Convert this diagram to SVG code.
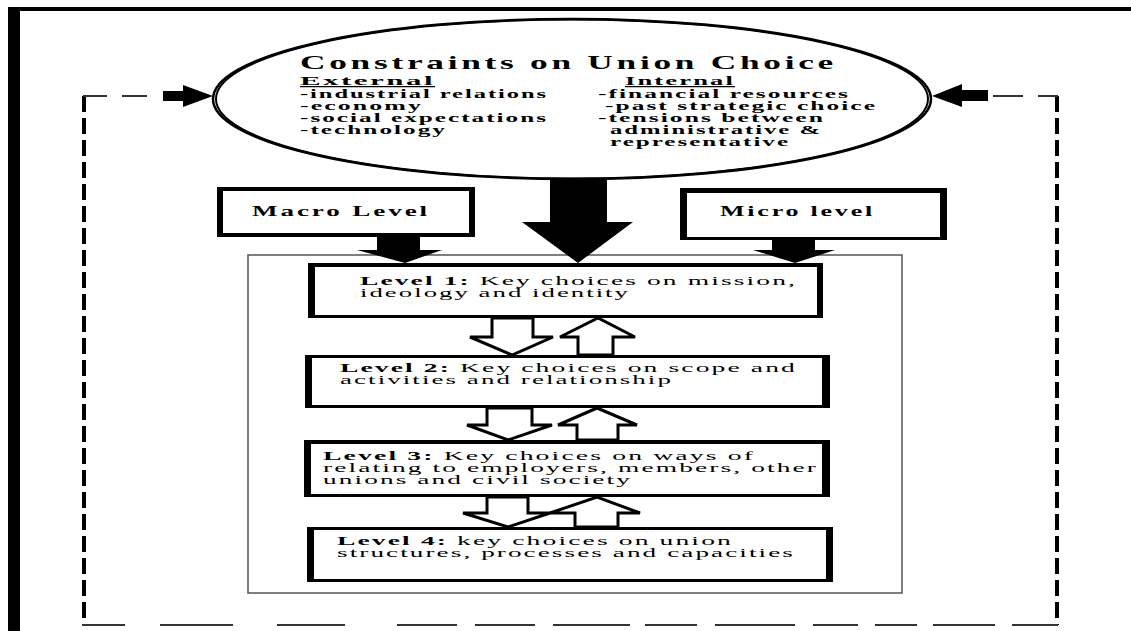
<svg xmlns="http://www.w3.org/2000/svg" width="1131" height="631" viewBox="0 0 1131 631">
<style>
  .t { font-family: "Liberation Serif", "Times New Roman", serif; fill: #000; }
  .eb { font-size: 12.5px; font-weight: bold; letter-spacing: 1px; }
  .ttl { font-size: 19px; font-weight: bold; letter-spacing: 2px; }
  .lv { font-size: 13px; letter-spacing: 1px; }
  .lvb { font-weight: bold; }
  .mm { font-size: 14px; font-weight: bold; letter-spacing: 1.5px; }
  .box { fill: #000; fill-rule: evenodd; }
  .hollow { fill: #fff; stroke: #000; stroke-width: 3; stroke-linejoin: miter; }
  .solid { fill: #000; }
  .dv { stroke: #000; stroke-width: 4; stroke-dasharray: 16 6; fill: none; }
  .dh { stroke: #333; stroke-width: 2; fill: none; }
</style>

<!-- outer frame -->
<g id="frame">
  <rect x="8" y="7" width="12" height="624" fill="#000"/>
  <rect x="8" y="7" width="1123" height="4" fill="#000"/>
</g>

<!-- container -->
<g id="container">
  <rect x="248" y="255" width="654" height="338" fill="none" stroke="#555" stroke-width="1.5"/>
</g>

<g id="connectors">
  <!-- feedback loop -->
  <line class="dv" x1="84" y1="96" x2="84" y2="625"/>
  <line class="dv" x1="1057" y1="96" x2="1057" y2="625"/>
  <path class="dh" d="M83 96H107M122 96H147M993 96H1023M1038 96H1058"/>
  <path class="dh" d="M82 625H125M160 625H233M277 625H345M397 625H457M475 625H535M553 625H630M645 625H697M715 625H795M813 625H858M875 625H917M933 625H995M1012 625H1058"/>
  <polygon class="solid" points="163,91 183,91 183,85 213,96 183,107 183,101 163,101"/>
  <polygon class="solid" points="988,90 962,90 962,84 932,96 962,107 962,101 988,101"/>
  <!-- big central arrow -->
  <polygon class="solid" points="550,170 607,170 607,222 633,222 578,263 522,222 550,222"/>
  <!-- macro / micro arrows -->
  <polygon class="solid" points="377,236 420,236 420,250 442,250 405,263 357,250 377,250"/>
  <polygon class="solid" points="772,239 815,239 815,250 835,250 795,263 753,250 772,250"/>
  <!-- hollow arrows between levels -->
  <polygon class="hollow" points="492,318 492,337 470,337 512,355 553,337 533,337 533,318"/>
  <polygon class="hollow" points="578,355 578,337 560,337 598,318 635,337 613,337 613,355"/>
  <polygon class="hollow" points="487,408 487,425 467,425 508,440 552,425 532,425 532,408"/>
  <polygon class="hollow" points="577,440 577,425 558,425 597,408 637,425 618,425 618,440"/>
  <polygon class="hollow" points="487,497 487,513 463,513 508,527 550,513 528,513 528,497"/>
  <polygon class="hollow" points="575,527 575,513 550,513 597,497 640,513 618,513 618,527"/>
</g>

<g id="constraints">
  <ellipse cx="572" cy="99" rx="359" ry="80" fill="#fff" stroke="#000" stroke-width="2.5"/>
  <ellipse cx="572" cy="99" rx="356" ry="79.5" fill="none" stroke="#000" stroke-width="2"/>
  <text class="t ttl" x="300" y="69" textLength="537" lengthAdjust="spacingAndGlyphs">Constraints on Union Choice</text>
  <text class="t eb" x="300" y="85" textLength="135" lengthAdjust="spacingAndGlyphs" text-decoration="underline">External</text>
  <text class="t eb" x="625" y="85" textLength="110" lengthAdjust="spacingAndGlyphs" text-decoration="underline">Internal</text>
  <text class="t eb" x="300" y="98" textLength="248" lengthAdjust="spacingAndGlyphs">-industrial relations</text>
  <text class="t eb" x="300" y="110" textLength="123" lengthAdjust="spacingAndGlyphs">-economy</text>
  <text class="t eb" x="300" y="122" textLength="248" lengthAdjust="spacingAndGlyphs">-social expectations</text>
  <text class="t eb" x="300" y="134" textLength="147" lengthAdjust="spacingAndGlyphs">-technology</text>
  <text class="t eb" x="598" y="98" textLength="252" lengthAdjust="spacingAndGlyphs">-financial resources</text>
  <text class="t eb" x="605" y="110" textLength="272" lengthAdjust="spacingAndGlyphs">-past strategic choice</text>
  <text class="t eb" x="598" y="122" textLength="227" lengthAdjust="spacingAndGlyphs">-tensions between</text>
  <text class="t eb" x="610" y="134" textLength="212" lengthAdjust="spacingAndGlyphs">administrative &amp;</text>
  <text class="t eb" x="610" y="146" textLength="180" lengthAdjust="spacingAndGlyphs">representative</text>
</g>

<g id="macro">
  <path class="box" d="M217 187H475V237H217Z M223 191V233H469V191Z"/>
  <text class="t mm" x="252" y="216" textLength="178" lengthAdjust="spacingAndGlyphs">Macro Level</text>
</g>

<g id="micro">
  <path class="box" d="M680 188H947V240H680Z M687 193V237H940V193Z"/>
  <text class="t mm" x="720" y="216" textLength="155" lengthAdjust="spacingAndGlyphs">Micro level</text>
</g>

<g id="level1">
  <path class="box" d="M308 263H823V318H308Z M315 267V315H817V267Z"/>
  <text class="t lv" x="360" y="285" textLength="437" lengthAdjust="spacingAndGlyphs"><tspan class="lvb">Level 1:</tspan> Key choices on mission,</text>
  <text class="t lv" x="360" y="297" textLength="270" lengthAdjust="spacingAndGlyphs">ideology and identity</text>
</g>

<g id="level2">
  <path class="box" d="M305 355H830V408H305Z M312 358V405H822V358Z"/>
  <text class="t lv" x="340" y="372" textLength="457" lengthAdjust="spacingAndGlyphs"><tspan class="lvb">Level 2:</tspan> Key choices on scope and</text>
  <text class="t lv" x="340" y="384" textLength="333" lengthAdjust="spacingAndGlyphs">activities and relationship</text>
</g>

<g id="level3">
  <path class="box" d="M304 440H830V497H304Z M311 444V494H822V444Z"/>
  <text class="t lv" x="323" y="460" textLength="432" lengthAdjust="spacingAndGlyphs"><tspan class="lvb">Level 3:</tspan> Key choices on ways of</text>
  <text class="t lv" x="323" y="472" textLength="495" lengthAdjust="spacingAndGlyphs">relating to employers, members, other</text>
  <text class="t lv" x="323" y="484" textLength="309" lengthAdjust="spacingAndGlyphs">unions and civil society</text>
</g>

<g id="level4">
  <path class="box" d="M307 527H833V582H307Z M314 530V579H826V530Z"/>
  <text class="t lv" x="337" y="545" textLength="396" lengthAdjust="spacingAndGlyphs"><tspan class="lvb">Level 4:</tspan> key choices on union</text>
  <text class="t lv" x="337" y="557" textLength="458" lengthAdjust="spacingAndGlyphs">structures, processes and capacities</text>
</g>
</svg>
